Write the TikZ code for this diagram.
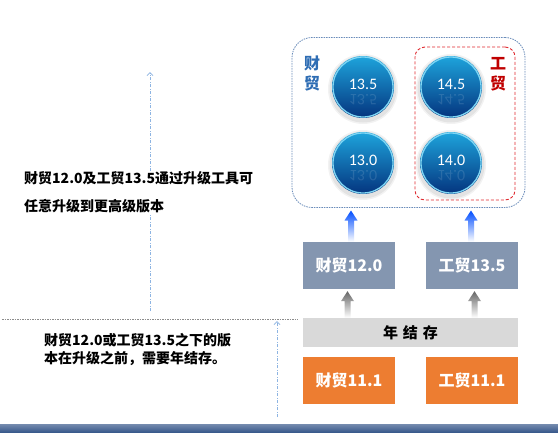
\documentclass[tikz,border=0pt]{standalone}
\usepackage{fontspec}
\setmainfont{Carlito}
\newfontfamily\cjk{Noto Sans CJK SC}
\usetikzlibrary{arrows.meta,calc}
\definecolor{slate}{HTML}{8496B0}
\definecolor{orng}{HTML}{ED7D31}
\definecolor{lgray}{HTML}{D9D9D9}
\definecolor{band}{HTML}{3A5A8C}
\definecolor{outerblue}{HTML}{6A8CBA}
\definecolor{redd}{HTML}{E0282E}
\definecolor{labelblue}{HTML}{2E6DB4}
\definecolor{labelred}{HTML}{C00000}
\definecolor{ballhi}{HTML}{1EA4DC}
\definecolor{ballmid}{HTML}{0A72BA}
\definecolor{balllo}{HTML}{04347E}
\definecolor{ballrim}{HTML}{7FD6F4}
\definecolor{guide}{HTML}{8DB4E2}
\tikzset{
  boxbase/.style={minimum width=92pt, minimum height=47pt, inner sep=0pt, text=white, font=\cjk\bfseries\fontsize{16}{18}\selectfont},
  slatebox/.style={boxbase, fill=slate},
  orangebox/.style={boxbase, fill=orng},
  barbox/.style={minimum width=215pt, minimum height=29pt, inner sep=0pt, fill=lgray, font=\cjk\bfseries\fontsize{15}{17}\selectfont},
  note/.style={font=\cjk\bfseries\fontsize{14}{18}\selectfont, align=left, inner sep=1pt, fill=white, anchor=west},
  guideline/.style={draw=guide, dash pattern=on 3pt off 1.5pt on 1pt off 1.5pt, line width=0.8pt},
  balllabel/.style={text=white, font=\fontsize{16}{18}\selectfont},
}
\newcommand\fatarrow[4]{%
  \shade[top color=#3, bottom color=#4] let \p1=(#1), \p2=(#2) in
    (\x1-3pt,\y1) -- (\x1-3pt,\y2-10pt) -- (\x1-6.5pt,\y2-10pt) -- (\x1,\y2) --
    (\x1+6.5pt,\y2-10pt) -- (\x1+3pt,\y2-10pt) -- (\x1+3pt,\y1) -- cycle;}
\newcommand\myball[4]{%
  \fill[black, opacity=0.05] (#2,#3+2) circle (35);
  \fill[black, opacity=0.06] (#2,#3+2) circle (33.5);
  \shade[shading angle=20, top color=ballhi, middle color=ballmid, bottom color=balllo] (#2,#3) circle (31);
  \draw[ballrim, line width=1.3pt] (#2,#3) circle (30);
  \node[circle, minimum size=62pt, inner sep=0pt] (#1) at (#2,#3) {};
  \node[balllabel] at (#2,#3-3) {#4};
  \node[balllabel, opacity=0.12, yscale=-1, transform shape] at (#2,#3+13) {#4};}
\begin{document}
\begin{tikzpicture}[x=1pt,y=-1pt]
\useasboundingbox (0,0) rectangle (558,432);
\fill[white] (0,0) rectangle (558,432);
% bottom band
\shade[top color=band!70, bottom color=band] (0,424) rectangle (558,432);
% outer boxes
\node[draw=outerblue, dash pattern=on 1.5pt off 1pt, line width=0.8pt, rounded corners=20pt,
  minimum width=233pt, minimum height=170pt, inner sep=0pt] (outer) at (408.5,122.5) {};
\node[draw=redd, dash pattern=on 3pt off 2pt, line width=0.9pt, rounded corners=10pt,
  minimum width=100pt, minimum height=153pt, inner sep=0pt] (red) at (465,123.5) {};
\node[text=labelblue, font=\cjk\bfseries\fontsize{16}{20}\selectfont, align=center, inner sep=0pt] (lbA) at (312,73) {财\\贸};
\node[text=labelred, font=\cjk\bfseries\fontsize{16}{20}\selectfont, align=center, inner sep=0pt] (lbB) at (498,74) {工\\贸};
% balls
\myball{b135}{363}{87}{13.5}
\myball{b145}{451}{87}{14.5}
\myball{b130}{363}{163}{13.0}
\myball{b140}{451}{163}{14.0}
% boxes
\node[slatebox] (g1) at (349,265.5) {财贸12.0};
\node[slatebox] (g2) at (472,265.5) {工贸13.5};
\node[barbox] (bar) at (410.5,332.5) {年\hspace{5pt}结\hspace{5pt}存};
\node[orangebox] (o1) at (349,380.5) {财贸11.1};
\node[orangebox] (o2) at (472,380.5) {工贸11.1};
% arrows
\coordinate (t1) at (351,210.5);
\coordinate (t2) at (471,210.5);
\fatarrow{$(g1.north)+(2,0)$}{t1}{blue!70!cyan}{white}
\fatarrow{$(g2.north)+(-1,0)$}{t2}{blue!70!cyan}{white}
\fatarrow{$(bar.north)+(-63,0)$}{$(g1.south)+(0,2)$}{black!60}{white}
\fatarrow{$(bar.north)+(64,0)$}{$(g2.south)+(0,2)$}{black!60}{white}
% left guides
\coordinate (vA) at (150,311);
\coordinate (vB) at (150,72);
\draw[guideline, -{Straight Barb[length=3pt,width=6pt]}] (vA) -- (vB);
\coordinate (hA) at (2,319);
\coordinate (hB) at (298,319);
\draw[draw=black!45, dash pattern=on 1.5pt off 1pt, line width=0.8pt] (hA) -- (hB);
\coordinate (vC) at (277,417);
\coordinate (vD) at (277,321);
\draw[guideline, -{Straight Barb[length=3pt,width=6pt]}] (vC) -- (vD);
% notes
\node[note] (n1) at (23,192.5) {财贸12.0及工贸13.5通过升级工具可\\[10pt]任意升级到更高级版本};
\node[note] (n2) at (43,349) {财贸12.0或工贸13.5之下的版\\本在升级之前，需要年结存。};
\end{tikzpicture}
\end{document}
